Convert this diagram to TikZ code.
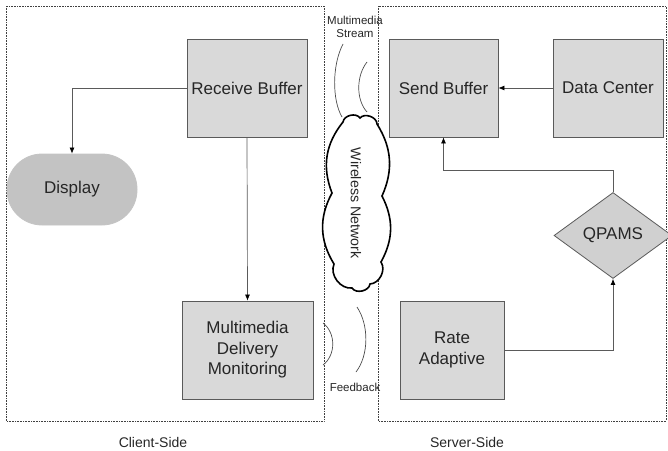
\documentclass[tikz,border=0pt]{standalone}
\usepackage{fontspec}
\setmainfont{Liberation Sans}
\usetikzlibrary{shapes.geometric,arrows.meta}
\definecolor{boxfill}{HTML}{D9D9D9}
\definecolor{dispfill}{HTML}{C3C3C3}
\definecolor{diafill}{HTML}{D0D0D0}
\definecolor{edge}{HTML}{5A5A5A}
\definecolor{ink}{HTML}{262626}
\tikzset{
  unit/.style={draw=edge, line width=0.8pt, fill=boxfill, text=ink,
    font=\fontsize{17}{20.5}\selectfont, align=center, inner sep=0pt},
  zone/.style={draw=black!75, densely dotted, line width=0.6pt},
  flow/.style={draw=edge, line width=0.7pt, -{Latex[length=6pt,width=5pt,black]}},
  wave/.style={draw=black!70, line width=0.7pt},
  note/.style={text=ink, font=\fontsize{11.5}{13}\selectfont, align=center, inner sep=0pt},
  sidelabel/.style={text=ink, font=\fontsize{14}{16}\selectfont, inner sep=0pt}
}
\begin{document}
\begin{tikzpicture}[x=1pt,y=-1pt]
\useasboundingbox (0,0) rectangle (668,450);

% client and server zones
\draw[zone] (6,6) rectangle (324,421);
\draw[zone] (378,6) rectangle (666,421);
\node[sidelabel] (cl) at (153,442) {Client-Side};
\node[sidelabel] (sl) at (467,442) {Server-Side};

% client side
\node[unit, minimum width=120pt, minimum height=98pt] (rb) at (247,88) {Receive Buffer};
\node[unit, fill=dispfill, draw=dispfill, rounded corners=35pt,
      minimum width=130pt, minimum height=71pt] (disp) at (72,189.5) {Display};
\node[unit, minimum width=131pt, minimum height=98pt] (mdm) at (247.5,350)
      {Multimedia\\Delivery\\Monitoring};

% server side
\node[unit, minimum width=109pt, minimum height=98pt] (sb) at (443.5,88) {Send Buffer};
\node[unit, minimum width=110pt, minimum height=98pt] (dc) at (608,88) {Data Center};
\node[unit, fill=diafill, diamond, minimum width=118pt, minimum height=86pt] (qp) at (613,235.5) {QPAMS};
\node[unit, minimum width=104pt, minimum height=98pt] (ra) at (452,350) {Rate\\Adaptive};

% connectors
\draw[flow] (rb.west) -| (disp.north);
\draw[flow] (rb.south) -- (mdm.north);
\draw[flow] (dc.west) -- (sb.east);
\draw[flow] (qp.north) -- ++(0,-22) -| (sb.south);
\draw[flow] (ra.east) -| (qp.south);

% wireless network cloud
\draw[line width=1.6pt, fill=white]
  (343,122) to[bend left=70] (360,118)
  to[bend left=70] (377,124)
  to[bend left=28] (382,196)
  to[bend left=28] (381,262)
  to[bend left=60] (370,284)
  to[bend left=70] (352,288)
  to[bend left=60] (334,264)
  to[bend left=30] (332,193)
  to[bend left=30] cycle;
\node[text=ink, font=\fontsize{14.2}{16}\selectfont, rotate=-90, inner sep=0pt] (wn) at (356,203) {Wireless Network};

% stream and feedback waves
\node[note] (ms) at (355,27) {Multimedia\\Stream};
\draw[wave] (343,44) .. controls (332,65) and (332,100) .. (342,117);
\draw[wave] (367,62) .. controls (356,76) and (356,100) .. (367,112);
\node[note] (fb) at (355,387) {Feedback};
\draw[wave] (323,323) .. controls (336,333) and (336,355) .. (323,365);
\draw[wave] (357,307) .. controls (369,325) and (369,355) .. (356,372);
\end{tikzpicture}
\end{document}
